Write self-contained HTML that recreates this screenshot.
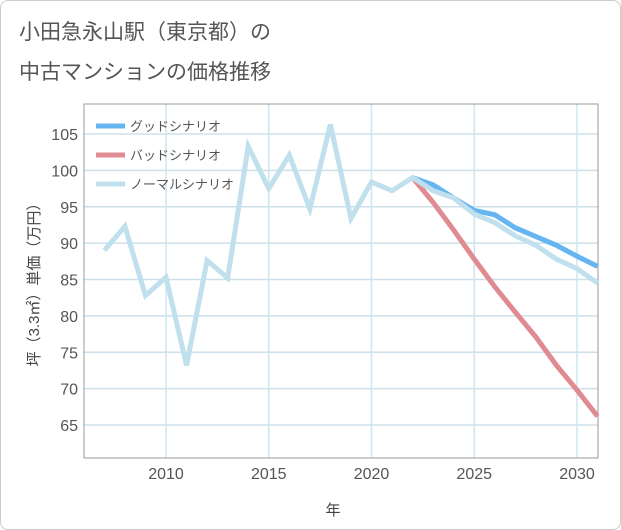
<!DOCTYPE html>
<html><head><meta charset="utf-8"><style>
body{margin:0;background:#fff;font-family:"Liberation Sans","Noto Sans CJK JP",sans-serif}
#wrap{position:relative;width:619px;height:528px;border:1px solid #ccc;border-radius:8px;overflow:hidden;background:#fff}
</style></head><body>
<div id="wrap">
<svg id="c" width="621" height="530">
<text x="18" y="38" font-size="21" fill="#555">小田急永山駅（東京都）の</text>
<text x="18" y="78" font-size="21" fill="#555">中古マンションの価格推移</text>
<g id="grid"></g><g id="axes"></g><g id="lines"></g>
<text x="332" y="514" font-size="15" fill="#444" text-anchor="middle">年</text>
<text transform="translate(38,280) rotate(-90)" font-size="15" fill="#444" text-anchor="middle">坪（3.3㎡）単価（万円）</text>
<g>
<line x1="95" y1="125" x2="124" y2="125" stroke="#64b5f0" stroke-width="5"/>
<text x="129" y="130" font-size="13" fill="#555">グッドシナリオ</text>
<line x1="95" y1="154" x2="124" y2="154" stroke="#e08a92" stroke-width="5"/>
<text x="129" y="159" font-size="13" fill="#555">バッドシナリオ</text>
<line x1="95" y1="183" x2="124" y2="183" stroke="#bfe0ec" stroke-width="5"/>
<text x="129" y="188" font-size="13" fill="#555">ノーマルシナリオ</text>
</g>
</svg></div>
<script>
const normalYears=[2007,2008,2009,2010,2011,2012,2013,2014,2015,2016,2017,2018,2019,2020,2021,2022,2023,2024,2025,2026,2027,2028,2029,2030,2031];
const normalVals=[89,92.3,82.8,85.3,73.2,87.6,85.2,103.3,97.5,102.1,94.7,106.3,93.4,98.4,97.2,99,97.2,96.2,94,92.8,91,89.7,87.8,86.5,84.5];
const forecastYears=[2022,2023,2024,2025,2026,2027,2028,2029,2030,2031];
const goodVals=[99,98,96.2,94.5,93.9,92.1,90.9,89.7,88.2,86.8];
const badVals=[99,95.6,91.8,87.8,84,80.5,77.1,73.2,69.8,66.2];
const xTicks=[2010,2015,2020,2025,2030];
const yTicks=[65,70,75,80,85,90,95,100,105];
const L=83,R=597,T=103,B=457;
const X=y=>165+(y-2010)*20.55;
const Y=v=>424-(v-65)*7.275;
const NS="http://www.w3.org/2000/svg";
function mk(p,tag,a){const e=document.createElementNS(NS,tag);for(const k in a)e.setAttribute(k,a[k]);p.appendChild(e);return e;}
const grid=document.getElementById('grid'),axes=document.getElementById('axes'),lines=document.getElementById('lines');
yTicks.forEach(t=>{const l=mk(grid,'line',{x1:L,x2:R,y1:Y(t),y2:Y(t),stroke:'#cde0ea','stroke-width':1.5});


const tx=mk(axes,'text',{x:L-6,y:Y(t)+6,'font-size':16,fill:'#555','text-anchor':'end'});tx.textContent=t;

});
xTicks.forEach(t=>{const l=mk(grid,'line',{x1:X(t),x2:X(t),y1:T,y2:B,stroke:'#cfe6f2','stroke-width':1.5});


const tx=mk(axes,'text',{x:X(t),y:B+21,'font-size':16,fill:'#555','text-anchor':'middle'});tx.textContent=t;

});
const fr=mk(axes,'path',{d:`M${L},${T}H${R}V${B}H${L}Z`,fill:'none',stroke:'#999','stroke-width':1});


function series(xs,vs,col,name){const p=mk(lines,'polyline',{points:xs.map((x,i)=>X(x)+','+Y(vs[i])).join(' '),fill:'none',stroke:col,'stroke-width':5,'stroke-linejoin':'miter'});

}
series(forecastYears,goodVals,'#64b5f0','good-scenario-line');
series(forecastYears,badVals,'#e08a92','bad-scenario-line');
series(normalYears,normalVals,'#bfe0ec','normal-scenario-line');
</script>
</body></html>
